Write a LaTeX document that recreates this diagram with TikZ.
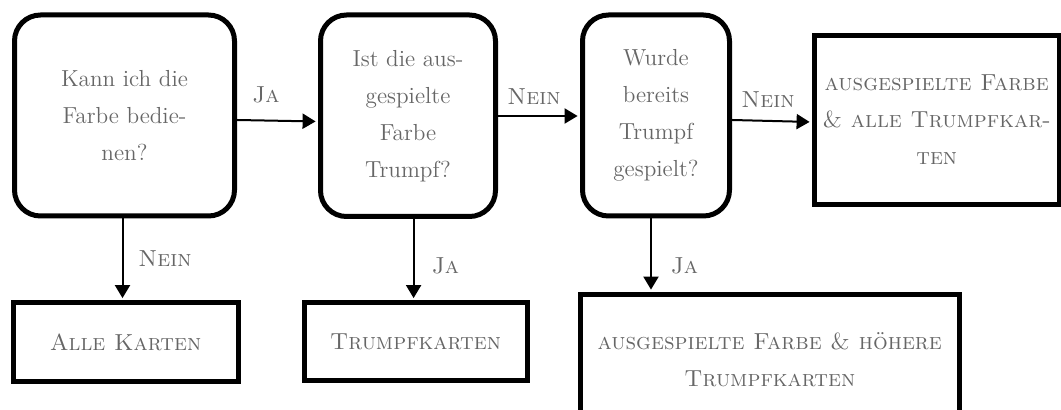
\documentclass[tikz,border=0pt]{standalone}
\usetikzlibrary{arrows.meta}
\definecolor{txt}{gray}{0.4}
\begin{document}
\begin{tikzpicture}[x=0.5pt,y=-0.5pt,
  every node/.style={text=txt,font=\fontsize{11.6}{18.5}\selectfont,align=center,inner sep=0pt},
  qbox/.style={draw=black,line width=2.5pt,rounded corners=13pt},
  abox/.style={draw=black,line width=2.5pt},
  lbl/.style={text=txt},
  conn/.style={line width=1pt,-{Triangle[length=6.5pt,width=7.5pt]},shorten >=1.2pt}]
\useasboundingbox (0,0) rectangle (1061,410);
\node[qbox,minimum width=110pt,minimum height=100.5pt] (b1) at (124.5,115.5) {Kann ich die\\Farbe bedie-\\nen?};
\node[qbox,minimum width=87.5pt,minimum height=100.75pt] (b2) at (408,115.75) {Ist die aus-\\gespielte\\Farbe\\Trumpf?};
\node[qbox,minimum width=73.5pt,minimum height=100.5pt] (b3) at (656,115.5) {Wurde\\bereits\\Trumpf\\gespielt?};
\node[abox,minimum width=122.25pt,minimum height=84.5pt] (b4) at (936.75,120) {\textsc{ausgespielte Farbe}\\\textsc{\& alle Trumpfkar-}\\\textsc{ten}};
\node[abox,minimum width=112.5pt,minimum height=39.25pt] (r1) at (125.5,342.25) {\textsc{Alle Karten}};
\node[abox,minimum width=111.5pt,minimum height=39pt] (r2) at (415.5,342) {\textsc{Trumpfkarten}};
\node[abox,minimum width=189.25pt,minimum height=65.25pt] (r3) at (769.75,359.75) {\textsc{ausgespielte Farbe \& höhere}\\\textsc{Trumpfkarten}};
\draw[conn] (b1.east |- 0,120) -- (b2.west |- 0,121.5);
\draw[conn] (b2.east |- 0,116) -- (b3.west |- 0,116);
\draw[conn] (b3.east |- 0,120) -- (b4.west |- 0,122);
\draw[conn] (122.5,0 |- b1.south) -- (122.5,0 |- r1.north);
\draw[conn] (413.6,0 |- b2.south) -- (413.6,0 |- r2.north);
\draw[conn] (651,0 |- b3.south) -- (651,0 |- r3.north);
\node[lbl] (l1) at (266,95) {\textsc{Ja}};
\node[lbl] (l2) at (534,97) {\textsc{Nein}};
\node[lbl] (l3) at (768,100) {\textsc{Nein}};
\node[lbl] (l4) at (165,259) {\textsc{Nein}};
\node[lbl] (l5) at (445.5,266) {\textsc{Ja}};
\node[lbl] (l6) at (684.5,266) {\textsc{Ja}};
\end{tikzpicture}
\end{document}
